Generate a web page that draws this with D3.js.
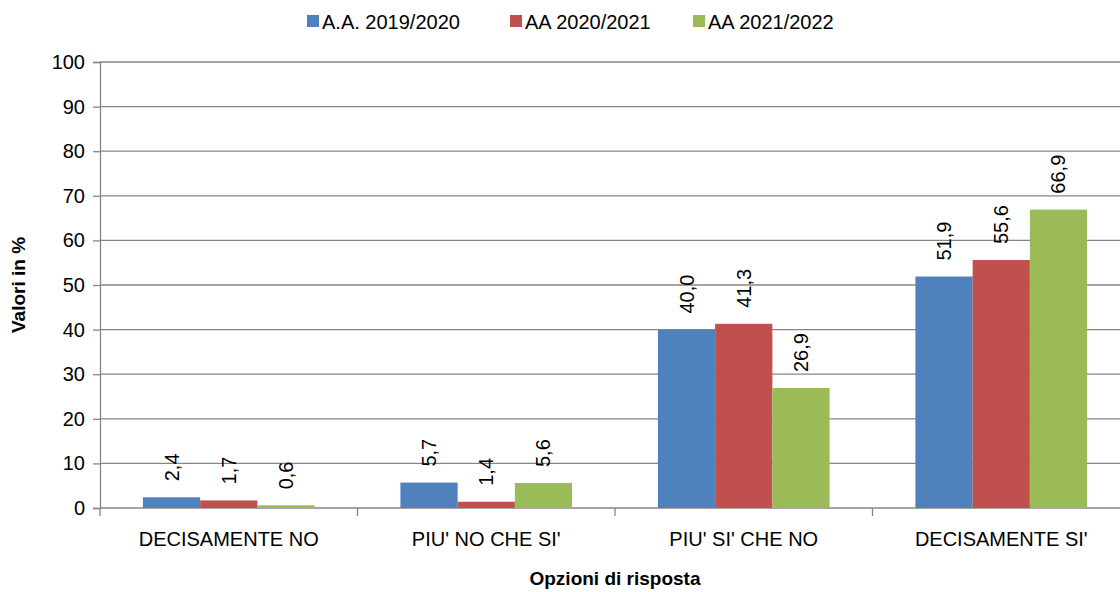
<!DOCTYPE html>
<html><head><meta charset="utf-8">
<script src="https://cdn.jsdelivr.net/npm/d3@7"></script>
<style>body{margin:0;background:#fff}svg{display:block}text{font-family:"Liberation Sans",Arial,sans-serif;fill:#000}</style>
</head><body>
<svg id="c" width="1120" height="592"></svg>
<script>
const categories = ["DECISAMENTE NO","PIU' NO CHE SI'","PIU' SI' CHE NO","DECISAMENTE SI'"];
const seriesNames = ["A.A. 2019/2020","AA 2020/2021","AA 2021/2022"];
const s2019 = [2.4, 5.7, 40.0, 51.9];
const s2020 = [1.7, 1.4, 41.3, 55.6];
const s2021 = [0.6, 5.6, 26.9, 66.9];
const yTicks = [0,10,20,30,40,50,60,70,80,90,100];
const colors = ["#4F81BD","#C0504D","#9BBB59"];
const seriesVals = [s2019, s2020, s2021];

const svg = d3.select("#c");
const pLeft = 100, pRight = 1130, pTop = 62, pBottom = 508;
const FS = 20;
const x = d3.scaleBand().domain(categories).range([pLeft, pRight]).paddingInner(0).paddingOuter(0);
const inner = d3.scaleBand().domain(d3.range(3)).range([0, x.bandwidth()]).paddingInner(0).paddingOuter(0.75);
const y = d3.scaleLinear().domain([0,100]).range([pBottom, pTop]);

// gridlines
svg.append("g").selectAll("line").data(yTicks).join("line")
  .attr("x1", pLeft).attr("x2", 1120).attr("y1", d=>y(d)).attr("y2", d=>y(d))
  .attr("stroke", "#868686").attr("stroke-width", 1.3);

// y axis
const ya = svg.append("g").attr("transform", `translate(${pLeft},0)`)
  .call(d3.axisLeft(y).tickValues(yTicks).tickSize(7).tickPadding(8));
ya.select(".domain").attr("stroke","#868686").attr("stroke-width",1.3);
ya.selectAll(".tick line").attr("stroke","#868686").attr("stroke-width",1.3);
ya.selectAll("text").attr("font-size", FS).attr("font-family","Liberation Sans, Arial, sans-serif").attr("fill","#000");

// x axis
const xa = svg.append("g").attr("transform", `translate(0,${pBottom})`)
  .call(d3.axisBottom(x).tickSize(0).tickPadding(24));
xa.select(".domain").remove();
xa.selectAll("text").attr("font-size", FS).attr("font-family","Liberation Sans, Arial, sans-serif").attr("fill","#000");
svg.append("g").selectAll("line").data(d3.range(categories.length+1)).join("line")
  .attr("x1", d=>pLeft + d*x.bandwidth()).attr("x2", d=>pLeft + d*x.bandwidth())
  .attr("y1", pBottom).attr("y2", pBottom+8).attr("stroke","#868686").attr("stroke-width",1.3);

// bars
seriesVals.forEach((vals, si) => {
  const g = svg.append("g");
  g.selectAll("rect").data(vals).join("rect")
    .attr("x", (d,i)=>x(categories[i]) + inner(si))
    .attr("y", d=>y(d))
    .attr("width", inner.bandwidth())
    .attr("height", d=>pBottom - y(d))
    .attr("fill", colors[si]);
  g.selectAll("text").data(vals).join("text")
    .attr("transform", (d,i)=>`translate(${x(categories[i]) + inner(si) + inner.bandwidth()/2},${y(d)-16}) rotate(-90)`)
    .attr("dy", "0.35em")
    .attr("text-anchor","start")
    .attr("font-size", FS)
    .text(d=>d.toFixed(1).replace(".", ","));
});

// legend
const legX = [307, 510, 693];
const leg = svg.append("g");
seriesNames.forEach((n,i)=>{
  leg.append("rect").attr("x", legX[i]).attr("y", 15).attr("width", 12).attr("height", 12).attr("fill", colors[i]);
  leg.append("text").attr("x", legX[i]+15).attr("y", 29).attr("font-size", FS).text(n);
});

// axis titles
svg.append("text").attr("transform","translate(25,285) rotate(-90)").attr("text-anchor","middle")
  .attr("font-size",19).attr("font-weight","bold").text("Valori in %");
svg.append("text").attr("x", 615).attr("y", 585).attr("text-anchor","middle")
  .attr("font-size",19).attr("font-weight","bold").text("Opzioni di risposta");
</script>
</body></html>
